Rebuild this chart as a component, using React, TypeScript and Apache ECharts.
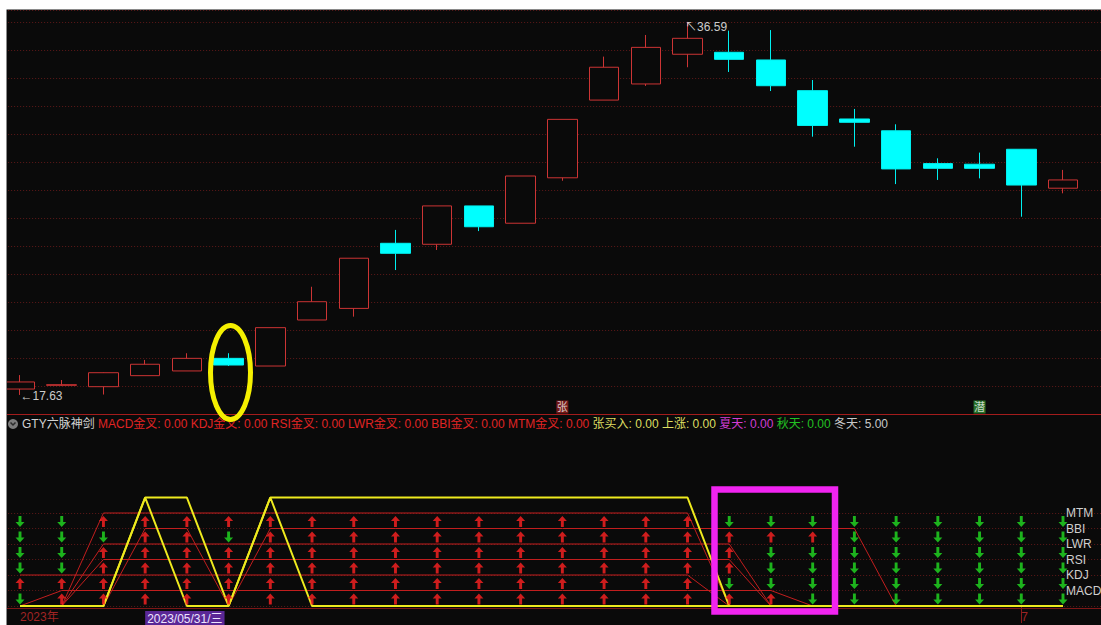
import React, { useEffect, useRef } from 'react';
import * as echarts from 'echarts';

// ---- data ----
const dates = [
  '2023-05-26', '2023-05-29', '2023-05-30', '2023-05-31', '2023-06-01', '2023-06-02',
  '2023-06-05', '2023-06-06', '2023-06-07', '2023-06-08', '2023-06-09', '2023-06-12',
  '2023-06-13', '2023-06-14', '2023-06-15', '2023-06-16', '2023-06-19', '2023-06-20',
  '2023-06-21', '2023-06-26', '2023-06-27', '2023-06-28', '2023-06-29', '2023-06-30',
  '2023-07-03', '2023-07-04',
];
const opens = [17.93, 18.12, 18.05, 18.61, 18.85, 19.49, 19.10, 21.44, 22.03, 25.34, 25.29, 27.24, 26.36, 28.67, 32.62, 33.44, 34.95, 35.05, 34.66, 33.10, 31.66, 31.06, 29.39, 29.36, 30.12, 28.14];
const closes = [18.29, 18.15, 18.76, 19.19, 19.49, 19.15, 21.05, 22.37, 24.58, 24.83, 27.24, 26.18, 28.76, 31.64, 34.29, 35.30, 35.76, 34.69, 33.35, 31.33, 31.49, 29.12, 29.15, 29.15, 28.30, 28.56];
const lows = [17.63, 18.08, 17.65, 18.61, 18.85, 19.10, 19.10, 21.44, 21.61, 23.98, 25.00, 25.96, 26.36, 28.52, 32.62, 33.34, 34.29, 34.05, 33.08, 30.76, 30.25, 28.35, 28.56, 28.64, 26.69, 27.88];
const highs = [18.64, 18.39, 18.78, 19.41, 19.75, 19.75, 21.05, 23.13, 24.58, 26.02, 27.24, 27.24, 28.76, 31.64, 34.83, 35.93, 36.59, 36.15, 36.18, 33.64, 32.17, 31.39, 29.66, 29.95, 30.12, 29.07];

// indicator state lines (level when active, 0 otherwise)
const mtmLine = [0, 0, 6, 6, 6, 6, 6, 6, 6, 6, 6, 6, 6, 6, 6, 6, 6, 0, 0, 0, 0, 0, 0, 0, 0, 0];
const bbiLine = [0, 0, 0, 5, 5, 0, 5, 5, 5, 5, 5, 5, 5, 5, 5, 5, 5, 5, 5, 5, 5, 0, 0, 0, 0, 0];
const lwrLine = [0, 0, 4, 4, 4, 4, 4, 4, 4, 4, 4, 4, 4, 4, 4, 4, 4, 4, 0, 0, 0, 0, 0, 0, 0, 0];
const rsiLine = [0, 0, 3, 3, 3, 3, 3, 3, 3, 3, 3, 3, 3, 3, 3, 3, 3, 3, 0, 0, 0, 0, 0, 0, 0, 0];
const kdjLine = [2, 2, 2, 2, 2, 2, 2, 2, 2, 2, 2, 2, 2, 2, 2, 2, 2, 0, 0, 0, 0, 0, 0, 0, 0, 0];
const macdLine = [0, 1, 1, 1, 1, 1, 1, 1, 1, 1, 1, 1, 1, 1, 1, 1, 1, 1, 1, 0, 0, 0, 0, 0, 0, 0];

// arrows: 1 = red up, 0 = green down
const mtmUp = [0, 0, 1, 1, 1, 1, 1, 1, 1, 1, 1, 1, 1, 1, 1, 1, 1, 0, 0, 0, 0, 0, 0, 0, 0, 0];
const bbiUp = [0, 0, 0, 1, 1, 0, 1, 1, 1, 1, 1, 1, 1, 1, 1, 1, 1, 1, 1, 1, 0, 0, 0, 0, 0, 0];
const lwrUp = [0, 0, 1, 1, 1, 1, 1, 1, 1, 1, 1, 1, 1, 1, 1, 1, 1, 1, 0, 0, 0, 0, 0, 0, 0, 0];
const rsiUp = [0, 0, 1, 1, 1, 1, 1, 1, 1, 1, 1, 1, 1, 1, 1, 1, 1, 1, 0, 0, 0, 0, 0, 0, 0, 0];
const kdjUp = [1, 1, 1, 1, 1, 1, 1, 1, 1, 1, 1, 1, 1, 1, 1, 1, 1, 0, 0, 0, 0, 0, 0, 0, 0, 0];
const macdUp = [0, 1, 1, 1, 1, 1, 1, 1, 1, 1, 1, 1, 1, 1, 1, 1, 1, 1, 1, 0, 0, 0, 0, 0, 0, 0];

// yellow signal lines
const buyLine = [0, 0, 0, 7, 0, 0, 7, 0, 0, 0, 0, 0, 0, 0, 0, 0, 0, 0, 0, 0, 0, 0, 0, 0, 0, 0];
const riseLine = [0, 0, 0, 7, 7, 0, 7, 7, 7, 7, 7, 7, 7, 7, 7, 7, 7, 0, 0, 0, 0, 0, 0, 0, 0, 0];

const levelNames = ['', 'MACD', 'KDJ', 'RSI', 'LWR', 'BBI', 'MTM'];

const legendTitle = 'GTY六脉神剑';
const legendNames = ['MACD金叉', 'KDJ金叉', 'RSI金叉', 'LWR金叉', 'BBI金叉', 'MTM金叉', '张买入', '上涨', '夏天', '秋天', '冬天'];
const legendValues = [0, 0, 0, 0, 0, 0, 0, 0, 0, 0, 5];
const legendStyles = ['r', 'r', 'r', 'r', 'r', 'r', 'y', 'y', 'm', 'g', 'w'];

const signalIdx = [13, 23];
const signalText = ['张', '潜'];
const signalColor = ['#8e1c1c', '#2f8a2f'];

const axisMarkIdx = [0, 3, 24];
const axisMarkText = ['2023年', '2023/05/31/三', '7'];
const axisMarkStyle = ['d', 'hl', 'd'];

// ---- layout constants ----
const PRICE_MIN = 16.661;
const PRICE_MAX = 37.2;
const PRICE_STEP = 1.4235;
const GRID_LEFT = -0.86;
const GRID_WIDTH = 1126.44;

const FONT = '"Liberation Sans", Arial, "Noto Sans CJK SC", sans-serif';
const UP_PATH = 'path://M4,0 L8,5 L5.3,5 L5.3,11 L2.7,11 L2.7,5 L0,5 Z';
const DOWN_PATH = 'path://M2.7,0 L5.3,0 L5.3,6 L8,6 L4,11 L0,6 L2.7,6 Z';
const GRID_LINE = { color: '#5e1818', type: [1, 2], width: 1 };

export default function App() {
  const ref = useRef<HTMLDivElement>(null);

  useEffect(() => {
    if (!ref.current) return;
    const chart = echarts.init(ref.current, undefined, { renderer: 'svg' });

    const indicators = [
      { line: mtmLine, up: mtmUp, level: 6 },
      { line: bbiLine, up: bbiUp, level: 5 },
      { line: lwrLine, up: lwrUp, level: 4 },
      { line: rsiLine, up: rsiUp, level: 3 },
      { line: kdjLine, up: kdjUp, level: 2 },
      { line: macdLine, up: macdUp, level: 1 },
    ];
    const upPts: number[][] = [];
    const downPts: number[][] = [];
    indicators.forEach((ind) => {
      ind.up.forEach((u, i) => {
        (u ? upPts : downPts).push([i, ind.level - 0.55]);
      });
    });

    const legendText =
      `{t|${legendTitle}} ` +
      legendNames.map((n, i) => `{${legendStyles[i]}|${n}: ${legendValues[i].toFixed(2)}}`).join(' ');

    const redLines = indicators.map((ind) => ({
      type: 'line',
      xAxisIndex: 1,
      yAxisIndex: 1,
      data: ind.line,
      symbol: 'none',
      clip: false,
      z: 3,
      lineStyle: { color: '#c21e1e', width: 1 },
    }));

    const option: any = {
      animation: false,
      backgroundColor: '#0a0a0a',
      textStyle: { fontFamily: FONT },
      title: {
        text: legendText,
        left: 22,
        top: 417,
        padding: 0,
        textStyle: {
          fontSize: 12,
          fontWeight: 'normal',
          fontFamily: FONT,
          lineHeight: 14,
          rich: {
            t: { color: '#d2d2d2', fontSize: 12, fontFamily: FONT },
            r: { color: '#e02424', fontSize: 12, fontFamily: FONT },
            y: { color: '#dede62', fontSize: 12, fontFamily: FONT },
            m: { color: '#d23cd2', fontSize: 12, fontFamily: FONT },
            g: { color: '#22c022', fontSize: 12, fontFamily: FONT },
            w: { color: '#c8c8c8', fontSize: 12, fontFamily: FONT },
          },
        },
      },
      grid: [
        { left: GRID_LEFT, width: GRID_WIDTH, top: 10, height: 404, outerBoundsMode: 'none', containLabel: false },
        { left: GRID_LEFT, width: GRID_WIDTH, top: 513, height: 93, outerBoundsMode: 'none', containLabel: false },
      ],
      xAxis: [
        {
          type: 'category',
          gridIndex: 0,
          data: dates,
          max: 26,
          boundaryGap: true,
          axisLine: { show: false },
          axisTick: { show: false },
          axisLabel: { show: false },
          splitLine: { show: false },
        },
        {
          type: 'category',
          gridIndex: 1,
          data: dates,
          max: 26,
          boundaryGap: true,
          offset: 2,
          axisLine: { show: false },
          axisTick: {
            show: true,
            alignWithLabel: true,
            length: 17,
            interval: (i: number) => i === axisMarkIdx[2],
            lineStyle: { color: '#8b1a1a' },
          },
          axisLabel: {
            interval: 0,
            align: 'left',
            margin: 3,
            fontSize: 12,
            fontFamily: FONT,
            color: '#9a2222',
            formatter: (_v: string, i: number) => {
              const k = axisMarkIdx.indexOf(i);
              if (k < 0) return '';
              return `{${axisMarkStyle[k]}|${axisMarkText[k]}}`;
            },
            rich: {
              d: { color: '#a02424', fontSize: 12, fontFamily: FONT },
              hl: {
                color: '#ece4ff',
                backgroundColor: '#5a2796',
                fontSize: 12,
                fontFamily: FONT,
                padding: [2, 2, 1, 2],
              },
            },
          },
          splitLine: { show: false },
        },
      ],
      yAxis: [
        {
          type: 'value',
          gridIndex: 0,
          min: PRICE_MIN,
          max: PRICE_MAX,
          interval: PRICE_STEP,
          axisLine: { show: false },
          axisTick: { show: false },
          axisLabel: { show: false },
          splitLine: { show: true, lineStyle: GRID_LINE },
        },
        {
          type: 'value',
          gridIndex: 1,
          position: 'right',
          offset: -59.6,
          min: 0,
          max: 6,
          interval: 1,
          axisLine: { show: false },
          axisTick: { show: false },
          axisLabel: {
            margin: 0,
            color: '#cfcfcf',
            fontSize: 12,
            fontFamily: FONT,
            formatter: (v: number) => levelNames[Math.round(v)] || '',
          },
          splitLine: { show: true, lineStyle: GRID_LINE },
        },
      ],
      series: [
        {
          type: 'candlestick',
          xAxisIndex: 0,
          yAxisIndex: 0,
          barWidth: 30,
          data: dates.map((_d, i) => [opens[i], closes[i], lows[i], highs[i]]),
          itemStyle: {
            color: '#0a0a0a',
            color0: '#00ffff',
            borderColor: '#cc3434',
            borderColor0: '#00f0f0',
            borderWidth: 1,
          },
          markPoint: {
            symbol: 'circle',
            symbolSize: 1,
            silent: true,
            itemStyle: { color: 'rgba(0,0,0,0)' },
            label: { color: '#cccccc', fontSize: 12, fontFamily: FONT },
            data: [
              {
                type: 'max',
                valueDim: 'highest',
                label: {
                  position: 'right',
                  distance: 0,
                  offset: [-3, 5],
                  formatter: (p: any) => '↖' + Number(p.value).toFixed(2),
                },
              },
              {
                type: 'min',
                valueDim: 'lowest',
                label: {
                  position: 'right',
                  distance: 0,
                  offset: [0, 1],
                  formatter: (p: any) => '←' + Number(p.value).toFixed(2),
                },
              },
            ],
          },
        },
        {
          type: 'scatter',
          xAxisIndex: 0,
          yAxisIndex: 0,
          clip: false,
          symbol: 'rect',
          symbolSize: [12, 13],
          symbolOffset: [0, -7],
          data: signalIdx.map((idx, k) => ({
            value: [idx, PRICE_MIN],
            itemStyle: { color: signalColor[k] },
            label: {
              show: true,
              position: 'inside',
              formatter: signalText[k],
              color: '#f4f4f4',
              fontSize: 11,
              fontFamily: FONT,
            },
          })),
        },
        ...redLines,
        {
          type: 'line',
          xAxisIndex: 1,
          yAxisIndex: 1,
          data: buyLine,
          symbol: 'none',
          clip: false,
          z: 4,
          lineStyle: { color: '#eeea1e', width: 2 },
        },
        {
          type: 'line',
          xAxisIndex: 1,
          yAxisIndex: 1,
          data: riseLine,
          symbol: 'none',
          clip: false,
          z: 4,
          lineStyle: { color: '#eeea1e', width: 2 },
        },
        {
          type: 'scatter',
          xAxisIndex: 1,
          yAxisIndex: 1,
          clip: false,
          z: 5,
          symbol: UP_PATH,
          symbolSize: [9, 11],
          itemStyle: { color: '#ff2222' },
          data: upPts,
        },
        {
          type: 'scatter',
          xAxisIndex: 1,
          yAxisIndex: 1,
          clip: false,
          z: 5,
          symbol: DOWN_PATH,
          symbolSize: [9, 11],
          itemStyle: { color: '#22dd22' },
          data: downPts,
        },
      ],
      graphic: [
        // panel separators
        { type: 'line', z: 1, shape: { x1: 7, y1: 414.5, x2: 1101, y2: 414.5 }, style: { stroke: '#a31c1c', lineWidth: 1 } },
        { type: 'line', z: 1, shape: { x1: 7, y1: 608.5, x2: 1101, y2: 608.5 }, style: { stroke: '#7c1717', lineWidth: 1 } },
        // legend icon
        { type: 'circle', z: 10, shape: { cx: 13, cy: 424, r: 5 }, style: { fill: '#7c7c7c' } },
        { type: 'polyline', z: 11, shape: { points: [[10.5, 422.5], [13, 425], [15.5, 422.5]] }, style: { stroke: '#2a2a2a', lineWidth: 1.5, fill: null } },
        // annotations
        { type: 'rect', z: 50, shape: { x: 714.5, y: 489.5, width: 120.5, height: 122 }, style: { fill: null, stroke: '#f024f0', lineWidth: 6.5 } },
        { type: 'ellipse', z: 50, shape: { cx: 230.5, cy: 372.5, rx: 20, ry: 47 }, style: { fill: null, stroke: '#f5f000', lineWidth: 5 } },
        // page margins and border
        { type: 'rect', z: 100, shape: { x: 0, y: 0, width: 7, height: 625 }, style: { fill: '#ffffff' } },
        { type: 'rect', z: 100, shape: { x: 0, y: 0, width: 1101, height: 10 }, style: { fill: '#ffffff' } },
        { type: 'line', z: 101, shape: { x1: 6.5, y1: 10, x2: 6.5, y2: 625 }, style: { stroke: '#8a8a8a', lineWidth: 1 } },
        { type: 'line', z: 101, shape: { x1: 6.5, y1: 9.5, x2: 1101, y2: 9.5 }, style: { stroke: '#8a8a8a', lineWidth: 1 } },
      ],
    };

    chart.setOption(option);
    return () => chart.dispose();
  }, []);

  return (
    <div
      ref={ref}
      style={{ position: 'absolute', left: 0, top: 0, width: 1101, height: 625 }}
    />
  );
}
